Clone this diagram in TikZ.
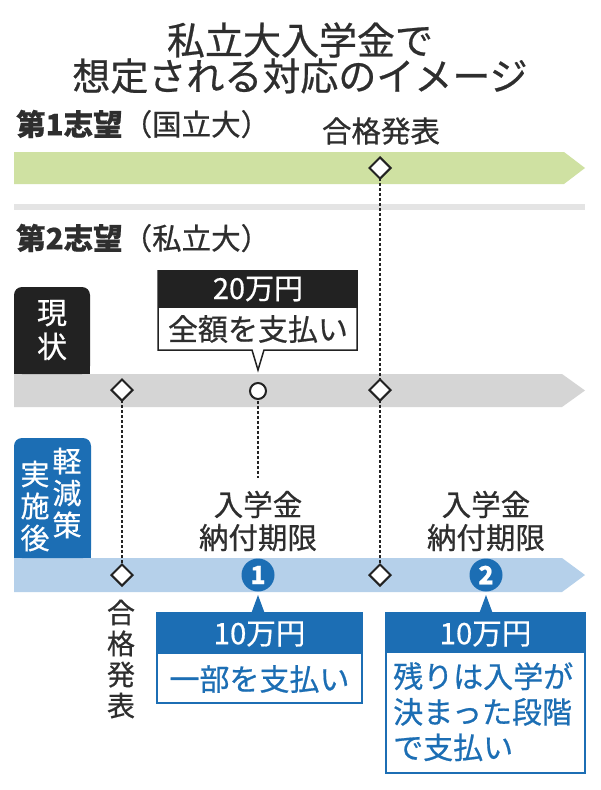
\documentclass[tikz,border=0pt]{standalone}
\usepackage{fontspec}
\setmainfont{Noto Sans CJK JP}[FakeBold=0.6]
\usetikzlibrary{shapes.geometric}
\definecolor{txt}{HTML}{2E2E2E}
\definecolor{greenbar}{HTML}{CFE1A2}
\definecolor{graybar}{HTML}{D5D5D5}
\definecolor{sepgray}{HTML}{E4E4E4}
\definecolor{bluebar}{HTML}{B5D0EA}
\definecolor{blu}{HTML}{1C6EB4}
\definecolor{blk}{HTML}{222222}
\newcommand{\myfs}[1]{\fontsize{#1pt}{#1pt}\selectfont}
\begin{document}
\begin{tikzpicture}[x=1pt,y=-1pt,
  dia/.style={diamond, draw=blk, fill=white, line width=2pt, minimum width=22pt, minimum height=22pt, inner sep=0pt},
  ring/.style={circle, draw=blk, fill=white, line width=2pt, minimum size=16pt, inner sep=0pt},
  numc/.style={circle, fill=blu, minimum size=33pt, inner sep=0pt, text=white, font=\myfs{25}\bfseries},
  dots/.style={draw=blk, line width=2.2pt, dash pattern=on 3pt off 2pt},
  lab/.style={text=txt, inner sep=0pt, font=\myfs{29.5}},
  title/.style={text=txt, inner sep=0pt, font=\myfs{38}},
  big/.style={inner sep=0pt, font=\myfs{30}},
  vtext/.style={inner sep=0pt, align=center, font=\fontsize{29pt}{32pt}\selectfont}
]
\useasboundingbox (0,0) rectangle (600,790);
\fill[white] (0,0) rectangle (600,790);

% title
\node[title] (t1) at (300,40) {私立大入学金で};
\node[title] (t2) at (300,76) {想定される対応のイメージ};

% row labels
\node[lab, anchor=west] (l1) at (16,124) {\bfseries 第1志望\mdseries（国立大）};
\node[lab] (pass1) at (381,131) {合格発表};
\node[lab, anchor=west] (l2) at (16,238) {\bfseries 第2志望\mdseries（私立大）};

% bars
\fill[greenbar] (14,152) -- (564,152) -- (585,168) -- (564,184) -- (14,184) -- cycle;
\fill[sepgray] (14,204) rectangle (585,210);
\fill[graybar] (14,374) -- (562,374) -- (585,390.5) -- (562,407) -- (14,407) -- cycle;
\fill[bluebar] (14,558) -- (562,558) -- (585,575) -- (562,592) -- (14,592) -- cycle;

% marker positions
\coordinate (gA) at (380,168);
\coordinate (cA) at (122,390);
\coordinate (cB) at (258,391);
\coordinate (cC) at (380,390);
\coordinate (cBend) at (258,478);
\coordinate (bA) at (122,575);
\coordinate (bC) at (380,575);

% dotted lines
\draw[dots] (gA) -- (cC);
\draw[dots] (cC) -- (bC);
\draw[dots] (cA) -- (bA);
\draw[dots] (cB) -- (cBend);

% markers
\node[dia] (mgA) at (gA) {};
\node[dia] (mcA) at (cA) {};
\node[ring] (mcB) at (cB) {};
\node[dia] (mcC) at (cC) {};
\node[dia] (mbA) at (bA) {};
\node[dia] (mbC) at (bC) {};
\node[numc] (n1) at (258,575) {1};
\node[numc] (n2) at (486,575) {2};

% status box (black)
\fill[blk, rounded corners=8pt] (14,287) rectangle (90,374);
\fill[blk] (14,330) rectangle (90,374);
\node[vtext, text=white, font=\fontsize{30pt}{34pt}\selectfont] (now) at (52,330) {現\\状};

% after box (blue)
\fill[blu, rounded corners=8pt] (14,438) rectangle (91,558);
\fill[blu] (14,490) rectangle (91,558);
\node[vtext, text=white] (kc) at (67,493) {軽\\減\\策};
\node[vtext, text=white] (kl) at (35,506) {実\\施\\後};

% black callout
\fill[white] (158,308) -- (158,350) -- (252,350) -- (258,370) -- (264,350) -- (357,350) -- (357,308) -- cycle;
\fill[blk] (158,270) rectangle (357,308);
\draw[blk, line width=1.5pt, line join=miter] (158,270) -- (158,350) -- (252,350) -- (258,370) -- (264,350) -- (357,350) -- (357,270);
\node[big, text=white, font=\myfs{29}] (p20) at (258,289) {20万円};
\node[big, text=txt] (full) at (258,329) {全額を支払い};

% deadline labels
\node[vtext, text=txt, font=\fontsize{29.5pt}{33pt}\selectfont] (dl1) at (258,521) {入学金\\納付期限};
\node[vtext, text=txt, font=\fontsize{29.5pt}{33pt}\selectfont] (dl2) at (486,521) {入学金\\納付期限};

% vertical pass label
\node[vtext, text=txt, font=\fontsize{28pt}{31pt}\selectfont] (pass2) at (121,659) {合\\格\\発\\表};

% blue callout 1
\draw[blu, line width=2pt, fill=white] (157,613) rectangle (362,703);
\fill[blu] (157,613) rectangle (362,654);
\fill[blu] (251,614) -- (258,595) -- (265,614) -- cycle;
\node[big, text=white, font=\myfs{29.5}] (p10a) at (259.5,634) {10万円};
\node[big, text=blu] (part) at (259.5,679) {一部を支払い};

% blue callout 2
\draw[blu, line width=2pt, fill=white] (386,613) rectangle (585,773);
\fill[blu] (386,613) rectangle (585,653);
\fill[blu] (479,614) -- (486,595) -- (493,614) -- cycle;
\node[big, text=white, font=\myfs{29.5}] (p10b) at (485.5,634) {10万円};
\node[big, text=blu, anchor=north west, align=left, font=\fontsize{30pt}{35.5pt}\selectfont] (rest) at (393,662) {残りは入学が\\決まった段階\\で支払い};
\end{tikzpicture}
\end{document}
